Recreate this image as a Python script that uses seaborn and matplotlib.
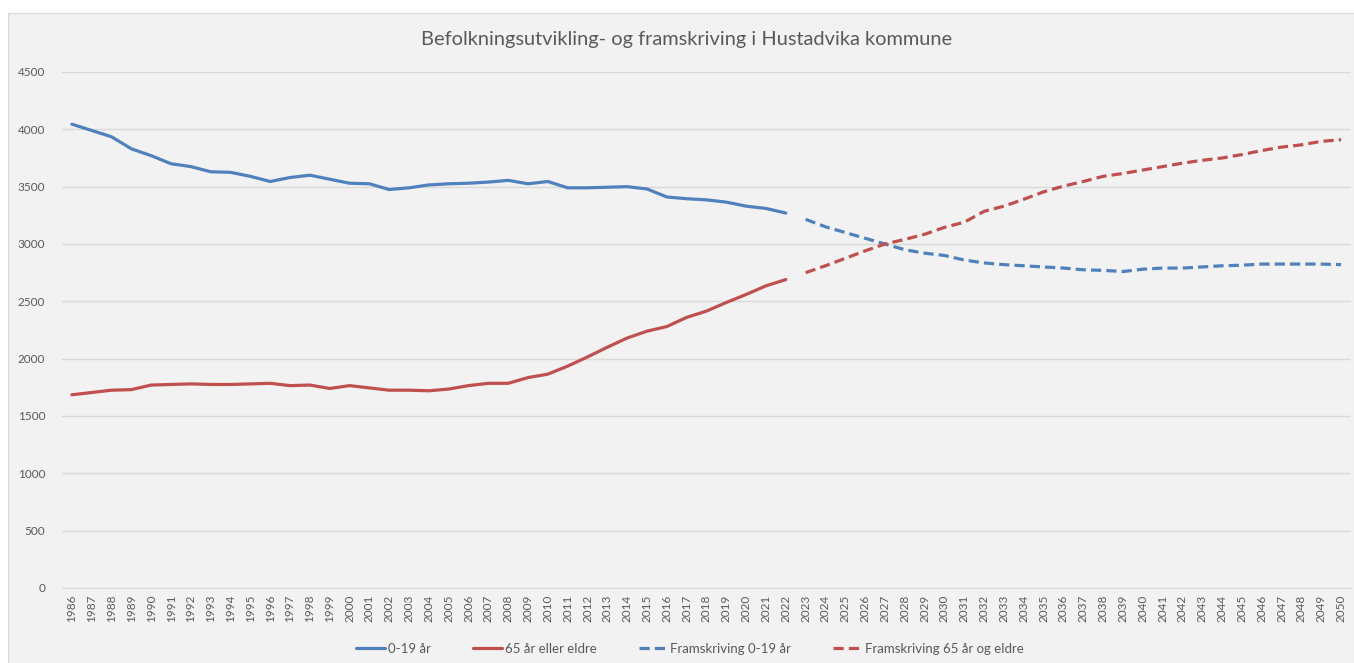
import pandas as pd
import numpy as np
import matplotlib.pyplot as plt
import seaborn as sns
from matplotlib.patches import Rectangle

# historiske tall
aar_hist = list(range(1986, 2023))
barn_hist = [4045, 3990, 3935, 3830, 3770, 3700, 3675, 3630, 3625, 3590,
             3545, 3580, 3600, 3565, 3530, 3525, 3475, 3490, 3515, 3525,
             3530, 3540, 3555, 3525, 3545, 3490, 3490, 3495, 3500, 3480,
             3410, 3395, 3385, 3365, 3330, 3310, 3270]
eldre_hist = [1685, 1705, 1725, 1730, 1770, 1775, 1780, 1775, 1775, 1780,
              1785, 1765, 1770, 1740, 1765, 1745, 1725, 1725, 1720, 1735,
              1765, 1785, 1785, 1835, 1865, 1935, 2015, 2100, 2180, 2240,
              2280, 2360, 2415, 2490, 2560, 2635, 2690]

# framskriving
aar_fram = list(range(2023, 2051))
barn_fram = [3215, 3150, 3100, 3050, 3000, 2950, 2920, 2900, 2860, 2835,
             2820, 2810, 2800, 2790, 2775, 2770, 2760, 2780, 2790, 2790,
             2800, 2810, 2815, 2825, 2825, 2825, 2825, 2820]
eldre_fram = [2750, 2810, 2875, 2940, 3000, 3040, 3085, 3145, 3190, 3285,
              3330, 3390, 3455, 3505, 3545, 3590, 3615, 3645, 3675, 3705,
              3730, 3750, 3780, 3815, 3845, 3865, 3895, 3910]

serier = ["0-19 år", "65 år eller eldre", "Framskriving 0-19 år", "Framskriving 65 år og eldre"]

df = pd.concat([
    pd.DataFrame({"år": aar_hist, "antall": barn_hist, "serie": serier[0]}),
    pd.DataFrame({"år": aar_hist, "antall": eldre_hist, "serie": serier[1]}),
    pd.DataFrame({"år": aar_fram, "antall": barn_fram, "serie": serier[2]}),
    pd.DataFrame({"år": aar_fram, "antall": eldre_fram, "serie": serier[3]}),
])

blaa = "#4f81bd"
roed = "#c0504d"
tekst = "#595959"

sns.set_style("white")
plt.rcParams['font.family'] = ['Lato', 'DejaVu Sans']

fig = plt.figure(figsize=(13.54, 6.63), dpi=100, facecolor="white")
bakgrunn = Rectangle((8/1354, 0), 1346/1354, 650/663, transform=fig.transFigure,
                     facecolor="#f2f2f2", edgecolor="#d9d9d9", lw=0.8, zorder=-10)
fig.add_artist(bakgrunn)
ax = fig.add_axes([62/1354, 75/663, 1289/1354, 516/663])
ax.set_facecolor("#f2f2f2")
ax.set_zorder(1)

sns.lineplot(data=df, x="år", y="antall", hue="serie", style="serie",
             palette=[blaa, roed, blaa, roed],
             dashes=["", "", (3.2, 1.6), (3.2, 1.6)],
             linewidth=2.3, ax=ax, legend=False)

ax.set_xlim(1985.5, 2050.5)
ax.set_ylim(0, 4500)
ax.set_yticks(range(0, 4501, 500))
ax.set_xticks(range(1986, 2051))
ax.set_xticklabels([str(a) for a in range(1986, 2051)], rotation=90, fontsize=8.5, color=tekst)
ax.tick_params(axis="y", labelsize=8.5, labelcolor=tekst, length=0, pad=12)
ax.tick_params(axis="x", length=0, pad=5)
ax.grid(axis="y", color="#d9d9d9", lw=1)
ax.set_axisbelow(True)
for s in ["top", "right", "left"]:
    ax.spines[s].set_visible(False)
ax.spines["bottom"].set_color("#d9d9d9")
ax.set_xlabel("")
ax.set_ylabel("")

fig.text(687/1354, 1 - 40/663, "Befolkningsutvikling- og framskriving i Hustadvika kommune",
         ha="center", va="center", fontsize=14.4, color=tekst)

handles = [plt.Line2D([], [], color=blaa, lw=2.3),
           plt.Line2D([], [], color=roed, lw=2.3),
           plt.Line2D([], [], color=blaa, lw=2.3, dashes=(3.2, 1.6)),
           plt.Line2D([], [], color=roed, lw=2.3, dashes=(3.2, 1.6))]
fig.legend(handles, serier, loc="center", bbox_to_anchor=(690/1354, 1 - 649/663), ncol=4,
           frameon=False, fontsize=9.5, handlelength=2.2, handletextpad=0.2, columnspacing=3.2,
           labelcolor=tekst)

fig.savefig("out.png", dpi=100, facecolor="white")
